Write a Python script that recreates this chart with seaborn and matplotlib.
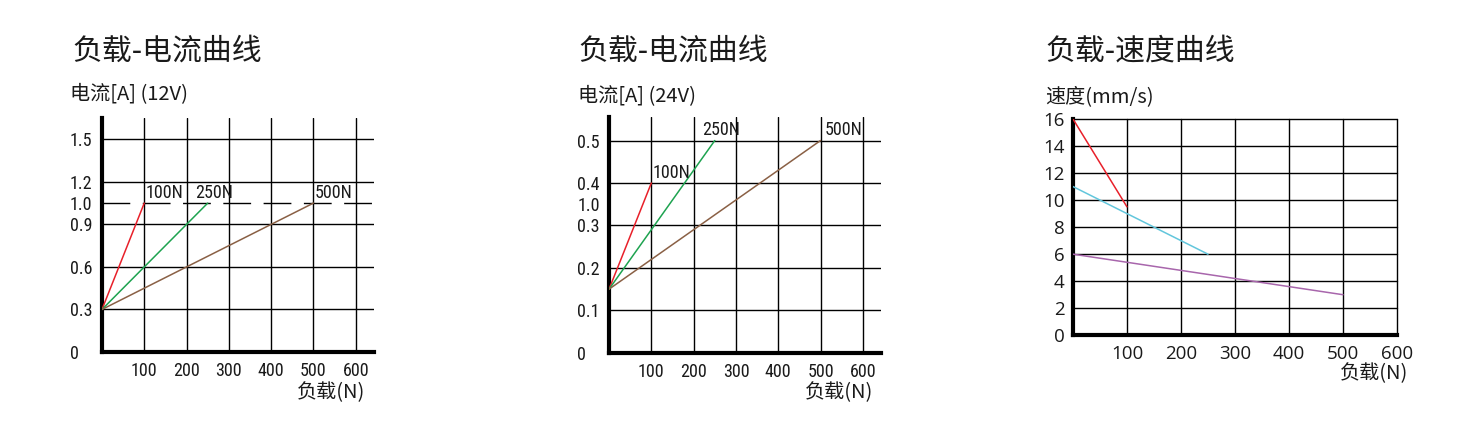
import numpy as np
import pandas as pd
import matplotlib
matplotlib.use("Agg")
import matplotlib.pyplot as plt
import seaborn as sns

# ---- data ----
series_names = ["100N", "250N", "500N"]

# chart 1: current at 12V
c1_load = [[0, 100], [0, 250], [0, 500]]
c1_current = [[0.3, 1.0], [0.3, 1.0], [0.3, 1.0]]
c1_yticks = [0, 0.3, 0.6, 0.9, 1.0, 1.2, 1.5]
c1_ylabels = ["0", "0.3", "0.6", "0.9", "1.0", "1.2", "1.5"]

# chart 2: current at 24V
c2_load = [[0, 100], [0, 250], [0, 500]]
c2_current = [[0.15, 0.4], [0.15, 0.5], [0.15, 0.5]]
c2_yticks = [0, 0.1, 0.2, 0.3, 0.35, 0.4, 0.5]
c2_ylabels = ["0", "0.1", "0.2", "0.3", "1.0", "0.4", "0.5"]

# chart 3: speed
c3_load = [[0, 100], [0, 250], [0, 500]]
c3_speed = [[16, 9.5], [11, 6], [6, 3]]
c3_yticks = [0, 2, 4, 6, 8, 10, 12, 14, 16]

xticks = [100, 200, 300, 400, 500, 600]

titles = ["负载-电流曲线", "负载-电流曲线", "负载-速度曲线"]
ylabels = ["电流[A] (12V)", "电流[A] (24V)", "速度(mm/s)"]
xlabel = "负载(N)"

current_colors = {"100N": "#e8202a", "250N": "#1ea350", "500N": "#8a6045"}
speed_colors = {"100N": "#e8202a", "250N": "#62c6dc", "500N": "#a866ac"}


def long_df(loads, values):
    rows = []
    for name, xs, ys in zip(series_names, loads, values):
        for x, y in zip(xs, ys):
            rows.append({"load": x, "value": y, "series": name})
    return pd.DataFrame(rows)


sns.set_theme(style="white")
plt.rcParams["font.family"] = ["Noto Sans CJK SC", "DejaVu Sans"]

CJK = ["Noto Sans CJK SC", "DejaVu Sans"]
NARROW = ["Roboto Condensed", "DejaVu Sans"]
SANS = ["Open Sans", "DejaVu Sans"]
TXT = "#1a1a1a"
NFS = 13

fig = plt.figure(figsize=(14.63, 4.4), dpi=100)
ax1 = fig.add_axes([0.0697, 0.200, 0.1859, 0.5318])
ax2 = fig.add_axes([0.4163, 0.198, 0.1859, 0.5357])
ax3 = fig.add_axes([0.7334, 0.238, 0.2215, 0.4916])


def style_axes(ax):
    for s in ["top", "right"]:
        ax.spines[s].set_visible(False)
    for s in ["left", "bottom"]:
        ax.spines[s].set_linewidth(3)
        ax.spines[s].set_color("black")
    ax.grid(False)
    ax.set_xlabel("")
    ax.set_ylabel("")


# ---- chart 1 ----
# uneven label spacing: 1.0 sits half way between 0.9 and 1.2
slot_vals = [0, 0.3, 0.6, 0.9, 1.0, 1.2, 1.5, 1.8]
slot_pos = [0, 1, 2, 3, 3.5, 4, 5, 6]
fwd = lambda v: np.interp(v, slot_vals, slot_pos)
inv = lambda p: np.interp(p, slot_pos, slot_vals)
ax1.set_yscale("function", functions=(fwd, inv))

df1 = long_df(c1_load, c1_current)
sns.lineplot(data=df1, x="load", y="value", hue="series", palette=current_colors,
             legend=False, linewidth=1.1, ax=ax1, zorder=3)
ax1.set_xlim(0, 643)
ax1.set_ylim(0, 1.65)
for t in c1_yticks[1:]:
    if t == 1.0:
        ax1.axhline(t, color="black", lw=1, ls=(0, (20, 9)), zorder=1)
    else:
        ax1.axhline(t, color="black", lw=1, zorder=1)
for t in xticks:
    ax1.axvline(t, color="black", lw=1, zorder=1)
for name, xs, ys, dx in zip(series_names, c1_load, c1_current, [1, -9, 1]):
    ax1.annotate(name, (xs[-1], ys[-1]), xytext=(dx, 1), textcoords="offset points",
                 ha="left", va="bottom", fontsize=NFS, family=NARROW, color=TXT)

# ---- chart 2 ----
df2 = long_df(c2_load, c2_current)
sns.lineplot(data=df2, x="load", y="value", hue="series", palette=current_colors,
             legend=False, linewidth=1.1, ax=ax2, zorder=3)
ax2.set_xlim(0, 643)
ax2.set_ylim(0, 0.555)
for t in [0.1, 0.2, 0.3, 0.4, 0.5]:
    ax2.axhline(t, color="black", lw=1, zorder=1)
for t in xticks:
    ax2.axvline(t, color="black", lw=1, zorder=1)
for name, xs, ys, dx in zip(series_names, c2_load, c2_current, [1, -9, 3]):
    ax2.annotate(name, (xs[-1], ys[-1]), xytext=(dx, 1), textcoords="offset points",
                 ha="left", va="bottom", fontsize=NFS, family=NARROW, color=TXT)

for ax, yt, yl in [(ax1, c1_yticks, c1_ylabels), (ax2, c2_yticks, c2_ylabels)]:
    style_axes(ax)
    ax.set_yticks(yt)
    ax.set_yticklabels(yl, family=NARROW, fontsize=NFS, color=TXT, ha="left")
    ax.set_xticks(xticks)
    ax.set_xticklabels([str(t) for t in xticks], family=NARROW, fontsize=NFS, color=TXT)
    ax.yaxis.set_minor_locator(matplotlib.ticker.NullLocator())
    ax.tick_params(axis="y", length=0, pad=23)
    ax.tick_params(axis="x", length=0, pad=7)

# ---- chart 3 ----
df3 = long_df(c3_load, c3_speed)
sns.lineplot(data=df3, x="load", y="value", hue="series", palette=speed_colors,
             legend=False, linewidth=1.1, ax=ax3, zorder=3)
ax3.set_xlim(0, 600)
ax3.set_ylim(0, 16)
for t in c3_yticks[1:]:
    ax3.axhline(t, color="black", lw=1, zorder=1, clip_on=False)
for t in xticks:
    ax3.axvline(t, color="black", lw=1, zorder=1, clip_on=False)
style_axes(ax3)
ax3.set_yticks(c3_yticks)
ax3.set_yticklabels([str(t) for t in c3_yticks], family=SANS, fontsize=13.5, color=TXT)
ax3.set_xticks(xticks)
ax3.set_xticklabels([str(t) for t in xticks], family=SANS, fontsize=13.5, color=TXT)
ax3.tick_params(axis="y", length=0, pad=6)
ax3.tick_params(axis="x", length=0, pad=7)

# ---- titles and axis captions ----
for x, t in zip([72 / 1463, 578 / 1463, 1045 / 1463], titles):
    fig.text(x, 0.885, t, fontsize=21.5, family=CJK, color=TXT, ha="left", va="center")

ylab_pos = [(-0.118, 1.098), (-0.114, 1.087), (-0.086, 1.104)]
xlab_pos = [(0.967, -0.175), (0.971, -0.17), (1.034, -0.177)]
for ax, yl, (yx, yy), (xx, xy) in zip([ax1, ax2, ax3], ylabels, ylab_pos, xlab_pos):
    ax.text(yx, yy, yl, transform=ax.transAxes, fontsize=14.5, family=CJK,
            color=TXT, ha="left", va="center")
    ax.text(xx, xy, xlabel, transform=ax.transAxes, fontsize=14.5, family=CJK,
            color=TXT, ha="right", va="center")

fig.savefig("out.png", dpi=100)
plt.close(fig)
